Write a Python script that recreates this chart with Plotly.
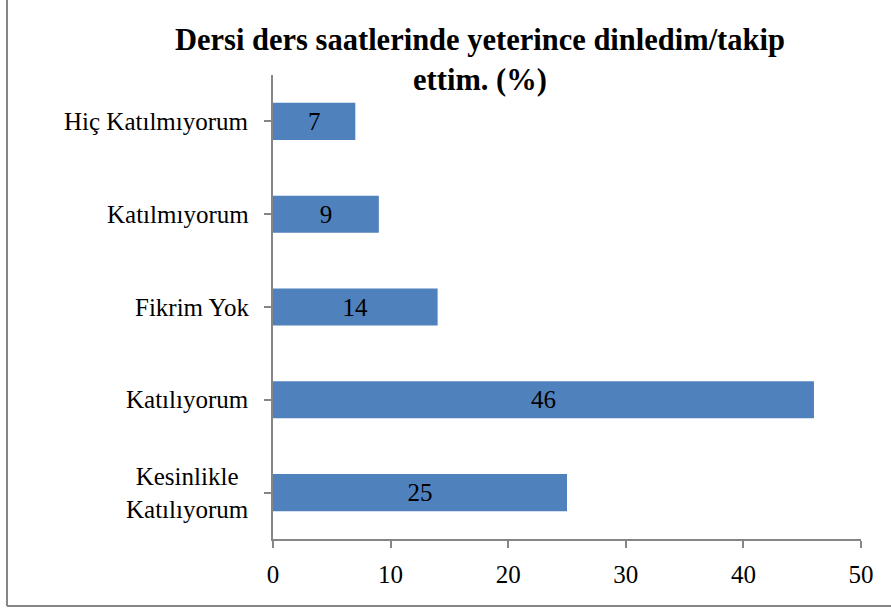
import plotly.graph_objects as go

categories = ["Kesinlikle<br>Katılıyorum", "Katılıyorum", "Fikrim Yok", "Katılmıyorum", "Hiç Katılmıyorum"]
values = [25, 46, 14, 9, 7]
x_ticks = [0, 10, 20, 30, 40, 50]
title_text = "Dersi ders saatlerinde yeterince dinledim/takip<br>ettim. (%)"

FONT = "Liberation Serif"
W, H = 891, 610
L, R, T, B = 273, 30, 75, 71
AX = "#868686"

pw = W - L - R
ph = H - T - B

fig = go.Figure()
fig.add_trace(go.Bar(
    y=list(range(len(categories))), x=values, orientation="h",
    marker=dict(color="#4F81BD", line=dict(width=0)),
    width=0.4,
    text=[str(v) for v in values], textposition="inside",
    insidetextanchor="middle",
    textfont=dict(family=FONT, size=25, color="black"),
    constraintext="none",
    hoverinfo="skip",
))

for i, c in enumerate(categories):
    fig.add_annotation(
        x=0, xref="paper", xshift=-22, xanchor="right",
        y=i, yref="y", yanchor="middle",
        text=c, showarrow=False, align="center",
        font=dict(family=FONT, size=25, color="black"),
    )

fig.add_annotation(
    x=(480 - L) / pw, xref="paper", xanchor="center",
    y=(H - B - 60) / ph, yref="paper", yanchor="middle",
    text="<b>" + title_text + "</b>", showarrow=False, align="center",
    font=dict(family=FONT, size=30.5, color="black"),
)

fig.add_shape(type="line", xref="paper", yref="paper",
              x0=(7 - L) / pw, x1=(7 - L) / pw, y0=(H - B - 606) / ph, y1=(H - B + 5) / ph,
              line=dict(color=AX, width=2))
fig.add_shape(type="line", xref="paper", yref="paper",
              x0=(7 - L) / pw, x1=(W + 5 - L) / pw,
              y0=(H - B - 606) / ph, y1=(H - B - 606) / ph,
              line=dict(color=AX, width=2))

fig.update_layout(
    width=W, height=H,
    margin=dict(l=L, r=R, t=T, b=B),
    plot_bgcolor="white", paper_bgcolor="white",
    showlegend=False,
    font=dict(family=FONT, color="black"),
    xaxis=dict(range=[0, 50], tickvals=x_ticks, ticks="outside", ticklen=7,
               tickcolor=AX, tickwidth=1.5, showline=True, linecolor=AX, linewidth=1.5,
               showgrid=False, zeroline=False, ticklabelstandoff=5,
               tickfont=dict(family=FONT, size=25, color="black")),
    yaxis=dict(range=[-0.5, len(categories) - 0.5], tickvals=list(range(len(categories))),
               ticktext=[""] * len(categories), tickson="boundaries",
               ticks="outside", ticklen=7, tickcolor=AX, tickwidth=1.5,
               showline=True, linecolor=AX, linewidth=1.5, showgrid=False,
               zeroline=False, showticklabels=False),
)

fig.write_html("out.html", config={"displayModeBar": False},
               post_script="document.body.style.margin='0px';")
